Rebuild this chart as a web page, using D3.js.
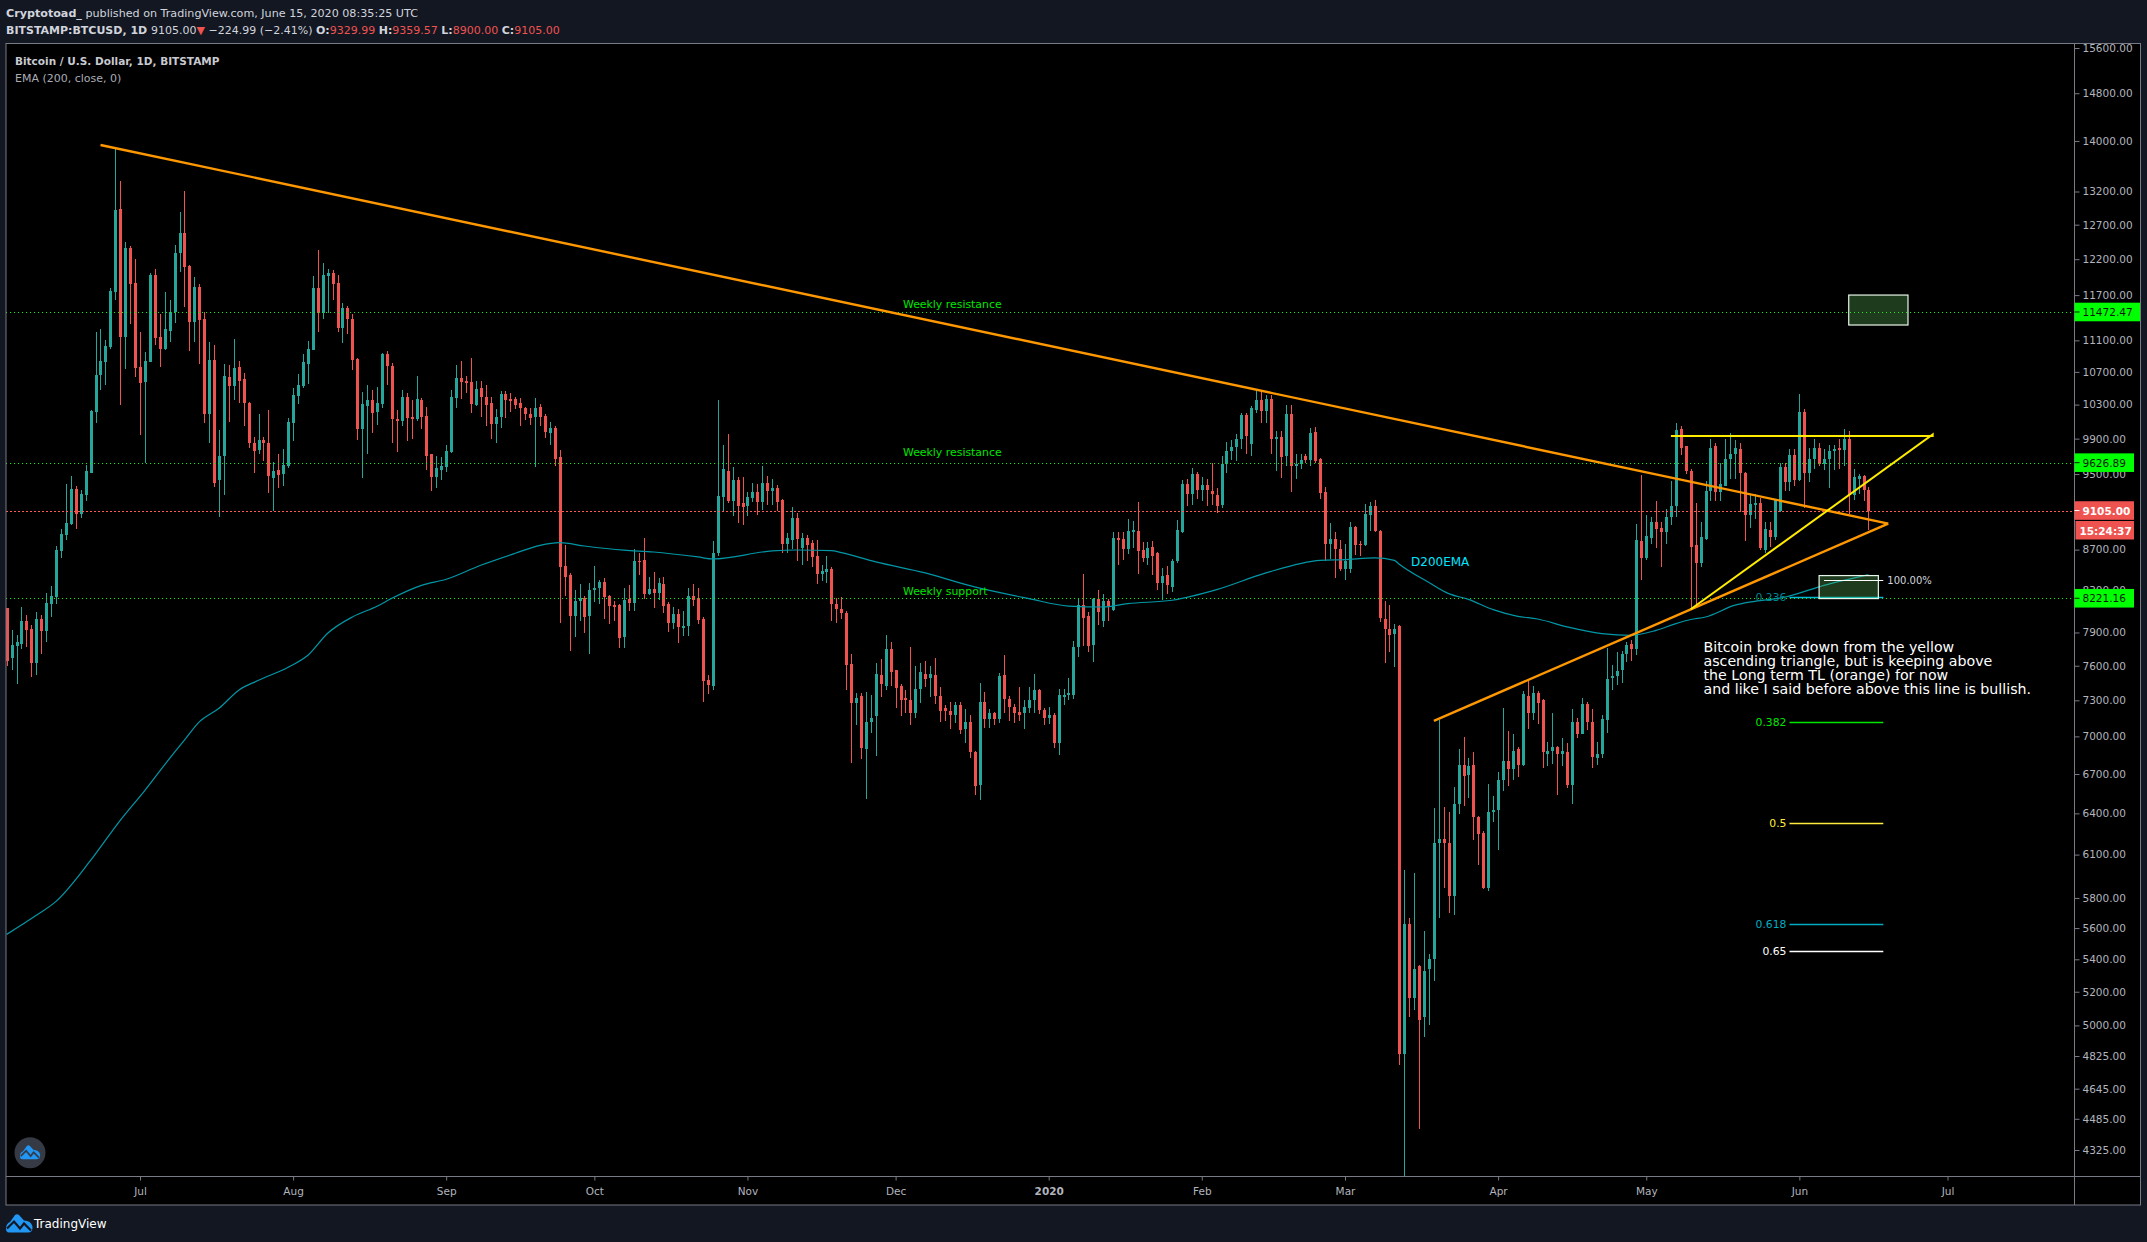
<!DOCTYPE html>
<html>
<head>
<meta charset="utf-8">
<style>
  html, body { margin: 0; padding: 0; background: #131722; }
  svg { display: block; }
  text { font-family: "DejaVu Sans", sans-serif; }
</style>
<script src="https://cdn.jsdelivr.net/npm/d3@7"></script>
</head>
<body>
<div id="chart"></div>
<script>
// daily candles, first one is 2019-06-04
const firstDay = Date.UTC(2019, 5, 4);
const opens = [
  8124,7671,7775,7794,8005,7930,7621,8023,7911,8165,
  8231,8683,8847,8961,9334,9066,9269,9517,10216,10665,
  10829,11018,11749,12938,11147,12364,11868,10765,10578,10829,
  11982,11147,10992,11224,11468,12293,12582,12107,11343,11816,
  11383,10192,10853,9429,9707,10640,10530,10765,10615,10323,
  9854,9772,9888,9854,9460,9548,9501,9592,10085,10408,
  10530,10803,10980,11801,11463,11968,11999,11868,11265,11530,
  11383,10865,10013,10288,10359,10216,10311,10929,10770,10126,
  10102,10397,10150,10126,10351,10170,9721,9472,9548,9583,
  9745,10383,10620,10583,10571,10293,10501,10390,10316,10075,
  10150,10425,10363,10363,10316,10257,10186,10150,10275,10170,
  9960,10020,9685,8532,8448,8052,8193,8222,8052,8299,
  8318,8376,8241,8155,8155,7855,8212,8174,8583,8594,
  8260,8308,8270,8357,8165,7986,8070,7940,7959,8241,
  8222,8023,7476,7423,8664,9247,9537,9205,9432,9180,
  9151,9236,9303,9195,9407,9312,9349,9215,8758,8796,
  9031,8715,8816,8769,8640,8455,8481,8507,8168,8118,
  8085,7614,7276,7334,6899,7119,7165,7518,7423,7754,
  7560,7420,7320,7300,7195,7394,7530,7495,7518,7334,
  7231,7210,7175,7260,7060,7119,6876,6615,7283,7140,
  7190,7140,7520,7310,7240,7200,7190,7235,7300,7385,
  7220,7150,7180,6945,7330,7345,7342,7765,8161,8050,
  7785,8213,8005,8196,8110,8820,8810,8702,8880,8890,
  8700,8620,8725,8665,8373,8445,8330,8590,8880,9395,
  9285,9505,9323,9375,9310,9275,9160,9617,9756,9805,
  9890,10174,9836,10240,10352,10225,10364,9890,9920,9700,
  10185,9587,9610,9700,9660,9975,9665,9300,8762,8813,
  8711,8505,8505,8928,8760,8745,9060,9150,8895,8029,
  7930,7885,7958,4838,5628,5165,5356,5049,5340,5405,
  6186,6211,6186,5810,6468,6769,6690,6769,6372,6255,
  5870,6407,6422,6650,6800,6740,6895,6769,7335,7195,
  7364,7303,6860,6878,6913,6855,6875,6612,7120,7022,
  7270,7120,6830,6855,7135,7490,7508,7560,7703,7793,
  7754,8785,8617,8822,8982,8925,8878,9035,9151,10010,
  9810,9532,8745,8564,8807,9312,9813,9300,9365,9666,
  9722,9780,9510,9056,9165,9185,8700,8900,8827,9098,
  9576,9410,9711,9431,10210,9510,9666,9790,9610,9666,
  9757,9790,9775,9893,9269,9450,9475,9329.99
];
const highs = [
  8130,7920,7875,8136,8061,7967,8089,8061,8270,8337,
  8735,8910,9389,9476,9366,9323,9599,10240,11212,11252,
  11108,11801,13869,13367,12451,12393,12207,11212,10954,12010,
  12065,11450,11747,11638,12407,12893,13212,12115,11953,11857,
  11476,11083,11044,10003,10803,10786,11122,10841,10690,10335,
  9922,10192,9915,10239,9636,9727,9785,10144,10504,10677,
  10929,11094,11968,12336,12150,12065,12052,11982,11598,11557,
  11450,10870,10456,10541,10480,10517,10941,10961,10805,10233,
  10474,10437,10351,10645,10383,10275,9730,9699,9685,9826,
  10474,10783,10833,10654,10870,10583,10590,10536,10390,10245,
  10462,10462,10437,10390,10383,10275,10264,10383,10304,10186,
  10090,10044,9773,8742,8465,8299,8357,8245,8366,8532,
  8395,8415,8250,8193,8170,8318,8347,8704,8664,8816,
  8424,8474,8415,8424,8183,8136,8117,8098,8318,8357,
  8318,8042,7518,8786,10352,9824,9951,9576,9470,9470,
  9303,9400,9390,9587,9476,9450,9378,9225,8871,9144,
  9080,8875,8850,8800,8800,8544,8632,8530,8221,8230,
  8100,7708,7360,7360,7370,7345,7620,7656,7875,7810,
  7565,7440,7390,7772,7600,7628,7645,7600,7665,7410,
  7260,7290,7290,7290,7225,7175,6885,7445,7370,7225,
  7200,7535,7700,7340,7265,7410,7300,7415,7525,7400,
  7235,7240,7190,7400,7400,7495,7820,8221,8461,8090,
  8220,8305,8260,8215,8880,8880,8880,9012,9000,9194,
  8780,8780,8790,8680,8520,8540,8610,9005,9430,9450,
  9570,9525,9470,9450,9625,9350,9700,9860,9880,9950,
  10195,10195,10285,10480,10480,10420,10420,9985,9985,10292,
  10300,9720,9720,9725,10020,10030,9680,9362,8970,8880,
  8800,8760,8985,8945,8790,9172,9197,9215,8900,8193,
  8157,7983,7965,5990,5667,5971,5365,5578,5433,6438,
  7134,6447,6410,6600,6898,6991,6830,6875,6380,6270,
  6624,6527,6716,7231,7044,7022,6913,7380,7476,7425,
  7380,7310,6955,7197,6920,6990,6945,7228,7155,7320,
  7290,7228,6955,7178,7757,7610,7720,7730,7810,7830,
  8968,9487,9060,9035,9205,8985,9120,9421,10080,10045,
  9820,9560,9185,8982,9421,9893,9848,9620,9893,9962,
  9880,9848,9520,9280,9280,9236,8982,8982,9225,9620,
  9620,9780,9780,10425,10245,9790,9893,9855,9780,9825,
  9825,9893,10010,9985,9553,9505,9485,9359.57
];
const lows = [
  7600,7560,7438,7748,7766,7501,7518,7703,7811,8042,
  8165,8614,8796,8955,8910,9024,9205,9510,10085,10480,
  10541,10992,11638,10299,10739,11317,10640,9945,9619,10820,
  11044,10765,10980,11083,11330,12023,11543,10967,11083,10803,
  10085,9854,9361,9040,9272,10097,10359,10323,10050,9797,
  9513,9727,9647,9293,9100,9350,9370,9570,9876,10311,
  10500,10554,10975,11212,11383,11463,11638,11212,11070,11186,
  10727,9888,9460,9727,9968,10062,10262,10536,9850,9745,
  10044,9870,9898,10110,10009,9542,9312,9342,9429,9525,
  9740,10255,10363,10437,10198,10282,10150,10044,9898,9850,
  10020,10138,10214,10245,10044,10115,10056,9583,10044,9903,
  9826,9594,7986,8240,7730,7855,8005,7893,7703,8183,
  8165,8023,7977,8005,7763,7756,8098,8098,8444,8212,
  8250,8127,8202,8079,7903,7930,7803,7864,7864,8146,
  7977,7285,7351,7390,8633,9088,9180,9045,8972,8950,
  9045,9195,9055,9108,9162,9162,9100,8661,8661,8711,
  8587,8544,8590,8527,8357,8390,8364,8008,7985,8023,
  7390,6783,7092,6815,6511,7030,6845,7327,7390,7420,
  7231,7165,7190,7092,7150,7276,7410,7330,7265,7122,
  7130,7060,7110,7020,6945,6825,6538,6500,7066,7066,
  7090,7110,7190,7130,7110,7130,7060,7190,7190,7185,
  7090,7100,6905,6850,7260,7300,7310,7680,7780,7725,
  7634,7970,7950,8010,8100,8544,8600,8660,8720,8461,
  8580,8545,8450,8300,8200,8260,8280,8570,8870,9150,
  9160,9230,9210,9150,9160,9075,9130,9515,9660,9640,
  9780,9720,9699,10200,10084,10080,9730,9530,9454,9590,
  9305,9450,9560,9625,9590,9625,9233,8590,8610,8422,
  8490,8400,8470,8650,8640,8740,8895,8880,8000,7627,
  7723,7590,4777,3850,5049,5090,4432,4934,5003,5263,
  5669,5865,5700,5683,6397,6457,6512,6202,6024,5860,
  5850,6337,6130,6570,6606,6650,6675,6765,7060,7135,
  7098,6750,6760,6780,6540,6760,6590,6470,6990,7020,
  7050,6750,6770,6825,7030,7385,7430,7450,7632,7640,
  7700,8396,8600,8755,8713,8523,8755,8950,9035,9711,
  9505,8118,8146,8523,8795,9205,9205,9205,9365,9443,
  9443,9088,8786,8919,9015,8700,8664,8730,8800,9090,
  9312,9312,9365,9421,9130,9410,9560,9590,9540,9345,
  9550,9555,9590,9066,9215,9280,9205,8900
];
const closes = [
  7646,7784,7811,8005,7920,7621,8023,7911,8174,8241,
  8694,8858,8972,9334,9066,9280,9532,10221,10665,10841,
  11031,11760,12923,11147,12364,11857,10752,10566,10841,11982,
  11134,10992,11252,11476,12293,12582,12094,11343,11816,11370,
  10192,10853,9407,9707,10653,10530,10752,10591,10323,9844,
  9761,9888,9844,9482,9537,9490,9603,10097,10420,10541,
  10829,10992,11801,11463,11982,11999,11857,11265,11530,11383,
  10853,10013,10311,10359,10203,10323,10929,10770,10126,10102,
  10397,10138,10126,10363,10158,9699,9472,9571,9594,9760,
  10390,10620,10571,10559,10304,10489,10390,10293,10075,10150,
  10425,10351,10340,10293,10257,10186,10138,10264,10158,9974,
  10020,9668,8523,8424,8052,8193,8222,8042,8299,8318,
  8376,8231,8146,8136,7845,8202,8174,8583,8574,8260,
  8308,8270,8366,8146,7986,8070,7948,7959,8241,8202,
  8014,7467,7431,8664,9258,9554,9205,9432,9151,9140,
  9247,9303,9195,9407,9312,9349,9194,8762,8820,9021,
  8813,8816,8744,8627,8455,8488,8504,8168,8118,8079,
  7605,7281,7320,6907,7122,7155,7525,7437,7754,7541,
  7409,7300,7300,7195,7394,7541,7480,7530,7334,7210,
  7210,7180,7260,7052,7119,6876,6610,7283,7140,7190,
  7140,7510,7310,7240,7190,7180,7240,7300,7390,7215,
  7150,7180,6945,7342,7345,7360,7770,8161,8032,7780,
  8213,8092,8196,8148,8820,8796,8702,8892,8900,8688,
  8620,8720,8640,8373,8440,8345,8590,8900,9395,9280,
  9498,9323,9380,9330,9285,9150,9617,9756,9805,9900,
  10174,9928,10265,10352,10225,10364,9890,9920,9685,10185,
  9587,9610,9662,9660,9966,9650,9295,8762,8813,8711,
  8505,8590,8928,8745,8745,9067,9150,8892,8030,7930,
  7875,7935,4838,5628,5165,5340,5030,5324,5403,6186,
  6211,6186,5810,6468,6769,6684,6763,6372,6250,5870,
  6407,6422,6650,6800,6740,6880,6769,7352,7190,7364,
  7280,6875,6880,6913,6855,6880,6612,7116,7022,7270,
  7116,6835,6855,7143,7480,7508,7550,7703,7784,7754,
  8796,8617,8837,8982,8910,8878,9035,9151,9997,9790,
  9532,8725,8564,8827,9312,9790,9300,9389,9666,9722,
  9790,9510,9056,9173,9185,8713,8910,8827,9215,9576,
  9410,9711,9431,10210,9510,9666,9790,9610,9666,9757,
  9780,9775,9893,9269,9465,9475,9323,9105
];

// 200 day EMA, days counted from 2019-07-01
const emaDays = [-27,-21,-17,-10,-4,1,6,9,12,16,20,24,30,34,38,43,48,51,57,62,69,76,81,85,90,98,104,113,116,128,133,140,142,149,159,169,180,188,195,200,209,218,228,239,244,250,254,255,261,265,269,274,279,283,289,296,302,307,311,314,317,323,327,333,341,350];
const emaValues = [5559,5684,5777,6059,6348,6574,6823,6970,7119,7233,7387,7472,7587,7693,7893,8044,8145,8221,8346,8405,8543,8663,8744,8771,8737,8694,8676,8626,8606,8687,8696,8690,8670,8576,8467,8330,8218,8147,8138,8170,8202,8304,8467,8592,8600,8616,8592,8553,8373,8266,8211,8113,8050,8025,7951,7890,7874,7920,7982,8020,8044,8155,8192,8231,8346,8451];

const priceTicks = [15600,14800,14000,13200,12700,12200,11700,11100,10700,10300,9900,9500,8700,8300,7900,7600,7300,7000,6700,6400,6100,5800,5600,5400,5200,5000,4825,4645,4485,4325];
const monthTicks = ["2019-07-01","2019-08-01","2019-09-01","2019-10-01","2019-11-01","2019-12-01","2020-01-01","2020-02-01","2020-03-01","2020-04-01","2020-05-01","2020-06-01","2020-07-01"];
const monthNames = ["Jul","Aug","Sep","Oct","Nov","Dec","2020","Feb","Mar","Apr","May","Jun","Jul"];

// drawings on the chart
const greenLevels = [11472.47, 9626.89, 8221.16];
const lastPrice = 9105;
const longTrend = [["2019-06-23",13935],["2020-06-19",8968]];
const riseTrend = [["2020-03-19",7127],["2020-06-19",8968]];
const triangle = [["2020-05-06",9930],["2020-06-28",9930],["2020-06-28",9947],["2020-05-10",8116]];
const fibLabels = ["0.382","0.5","0.618","0.65"];
const fibPrices = [7122,6332,5627,5454];
const fibColors = ["#00e600","#ffeb3b","#00acc1","#ffffff"];
const fibDays = ["2020-05-30","2020-06-18"];
const boxUpper = [["2020-06-11",11701],["2020-06-23",11300]];
const boxLower = [["2020-06-05",8441],["2020-06-17",8218]];
const noteLines = ["Bitcoin broke down from the yellow","ascending triangle, but is keeping above","the Long term TL (orange) for now","and like I said before above this line is bullish."];

const width = 2147, height = 1242;
const frame = { left: 6, top: 43.5, right: 2140.5, bottom: 1205 };
const axisX = 2074.5, axisY = 1176.5;
const up = "#26a69a", down = "#ef5350", grey = "#b2b5be", line = "#787b86";

const parseDay = d3.utcParse("%Y-%m-%d");
const x = d3.scaleUtc().domain([Date.UTC(2019,6,1), Date.UTC(2020,6,1)]).range([140, 1947.5]);
const y = d3.scaleLog().domain([4325, 15600]).range([1150, 48]);
const px = d => Math.round(x(d));
const crisp = p => Math.round(y(p)) + 0.5;
const pt = p => [x(parseDay(p[0])), y(p[1])];
const dayMs = 86400000;

const svg = d3.select("#chart").append("svg").attr("width", width).attr("height", height);
svg.append("rect").attr("width", width).attr("height", height).attr("fill", "#131722");
svg.append("rect").attr("x", frame.left).attr("y", frame.top)
  .attr("width", frame.right - frame.left).attr("height", frame.bottom - frame.top).attr("fill", "#000");

svg.append("clipPath").attr("id", "plot").append("rect")
  .attr("x", frame.left).attr("y", frame.top).attr("width", axisX - frame.left).attr("height", axisY - frame.top);
const plot = svg.append("g").attr("clip-path", "url(#plot)");

// candles
const candles = closes.map((c, i) => ({ t: firstDay + i * dayMs, o: opens[i], h: highs[i], l: lows[i], c: c }));
const candle = plot.append("g").attr("shape-rendering", "crispEdges").selectAll("g").data(candles).enter().append("g")
  .attr("fill", d => d.c >= d.o ? up : down);
candle.append("rect").attr("x", d => px(d.t)).attr("width", 1)
  .attr("y", d => y(d.h)).attr("height", d => y(d.l) - y(d.h));
candle.append("rect").attr("x", d => px(d.t) - 1).attr("width", 3)
  .attr("y", d => y(Math.max(d.o, d.c))).attr("height", d => Math.max(1, Math.abs(y(d.o) - y(d.c))));

// dotted levels
plot.selectAll(".level").data(greenLevels).enter().append("line")
  .attr("x1", frame.left).attr("x2", axisX).attr("y1", d => crisp(d)).attr("y2", d => crisp(d))
  .attr("stroke", "#00ff00").attr("stroke-width", 1).attr("stroke-dasharray", "1 3");
plot.append("line").attr("x1", frame.left).attr("x2", axisX).attr("y1", crisp(lastPrice)).attr("y2", crisp(lastPrice))
  .attr("stroke", "#ff5a55").attr("stroke-width", 1).attr("stroke-dasharray", "2 2");

// EMA
const emaLine = d3.line().curve(d3.curveMonotoneX).x(d => x(Date.UTC(2019,6,1) + d[0] * dayMs)).y(d => y(d[1]));
plot.append("path").datum(emaDays.map((d, i) => [d, emaValues[i]])).attr("d", emaLine)
  .attr("fill", "none").attr("stroke", "#0097a7").attr("stroke-width", 1.2);

// fib levels
const fibX = fibDays.map(parseDay).map(x);
fibPrices.forEach((p, i) => {
  plot.append("line").attr("x1", fibX[0]).attr("x2", fibX[1]).attr("y1", crisp(p)).attr("y2", crisp(p)).attr("stroke", fibColors[i]).attr("stroke-width", 1.5);
  plot.append("text").attr("x", fibX[0] - 3).attr("y", y(p) + 4).attr("text-anchor", "end").attr("font-size", 10.8).attr("fill", fibColors[i]).text(fibLabels[i]);
});
plot.append("line").attr("x1", fibX[0]).attr("x2", fibX[1]).attr("y1", crisp(8233)).attr("y2", crisp(8233)).attr("stroke", "#00bcd4").attr("stroke-width", 1.5);
plot.append("text").attr("x", fibX[0] - 3).attr("y", y(8233) + 4).attr("text-anchor", "end").attr("font-size", 10.8).attr("fill", "#00838f").text("0.236");

// boxes
[boxUpper, boxLower].forEach(b => {
  const a = pt(b[0]), c = pt(b[1]);
  plot.append("rect").attr("x", a[0]).attr("y", a[1]).attr("width", c[0] - a[0]).attr("height", c[1] - a[1])
    .attr("fill", "#63c263").attr("fill-opacity", 0.3).attr("stroke", "#e8f5e9").attr("stroke-width", 1.2);
});
plot.append("line").attr("x1", x(parseDay("2020-06-06"))).attr("x2", fibX[1]).attr("y1", crisp(8402)).attr("y2", crisp(8402)).attr("stroke", "#fff").attr("stroke-width", 1.2);
plot.append("text").attr("x", fibX[1] + 4).attr("y", y(8402) + 4).attr("font-size", 10).attr("fill", "#d1d4dc").text("100.00%");

// trend lines
const path2 = d3.line();
plot.append("path").attr("d", path2(longTrend.map(pt))).attr("fill", "none").attr("stroke", "#ff9800").attr("stroke-width", 2.4);
plot.append("path").attr("d", path2(riseTrend.map(pt))).attr("fill", "none").attr("stroke", "#ff9800").attr("stroke-width", 2.4);
plot.append("path").attr("d", path2(triangle.map(pt))).attr("fill", "none").attr("stroke", "#ffeb00").attr("stroke-width", 2);

// text notes
const labelGreen = "#00e600";
[["Weekly resistance", 304], ["Weekly resistance", 452], ["Weekly support", 591]].forEach(t => {
  plot.append("text").attr("x", 903).attr("y", t[1] + 4).attr("font-size", 10.9).attr("fill", labelGreen).text(t[0]);
});
plot.append("text").attr("x", 1411).attr("y", 566).attr("font-size", 12).attr("fill", "#00e5ff").text("D200EMA");
noteLines.forEach((t, i) => {
  plot.append("text").attr("x", 1703.5).attr("y", 651.5 + i * 14).attr("font-size", 14.2).attr("fill", "#fff").text(t);
});

// price axis
const yAxis = d3.axisRight(y).tickValues(priceTicks).tickFormat(d3.format(".2f")).tickSize(5).tickPadding(3);
const yG = svg.append("g").attr("transform", `translate(${axisX},0)`).call(yAxis);
yG.select(".domain").remove();
yG.selectAll("line").attr("stroke", line);
yG.selectAll("text").attr("fill", grey).attr("font-size", 10.5).attr("font-family", "DejaVu Sans");

// time axis
const xAxis = d3.axisBottom(x).tickValues(monthTicks.map(parseDay)).tickFormat((d, i) => monthNames[i]).tickSize(4).tickPadding(7);
const xG = svg.append("g").attr("transform", `translate(0,${axisY})`).call(xAxis);
xG.select(".domain").remove();
xG.selectAll("line").attr("stroke", line);
xG.selectAll("text").attr("fill", grey).attr("font-size", 10.5).attr("font-family", "DejaVu Sans")
  .attr("font-weight", (d, i) => monthNames[i] === "2020" ? "bold" : "normal");

// frame lines
svg.append("rect").attr("x", frame.left).attr("y", frame.top).attr("width", frame.right - frame.left).attr("height", frame.bottom - frame.top)
  .attr("fill", "none").attr("stroke", line);
svg.append("line").attr("x1", axisX).attr("x2", axisX).attr("y1", frame.top).attr("y2", frame.bottom).attr("stroke", line);
svg.append("line").attr("x1", frame.left).attr("x2", frame.right).attr("y1", axisY).attr("y2", axisY).attr("stroke", line);

// price tags on the axis
function priceTag(yPos, fill, color, txt, w, bold) {
  svg.append("rect").attr("x", axisX).attr("y", yPos - 9.3).attr("width", w).attr("height", 18.6).attr("fill", fill);
  svg.append("line").attr("x1", axisX).attr("x2", axisX + 5).attr("y1", yPos).attr("y2", yPos).attr("stroke", color);
  svg.append("text").attr("x", axisX + 8).attr("y", yPos + 4).attr("font-size", 10.5).attr("fill", color)
    .attr("font-weight", bold ? "bold" : "normal").text(txt);
}
greenLevels.forEach(p => {
  const txt = d3.format(".2f")(p);
  priceTag(y(p), "#00ff00", "#0b1a0b", txt, txt.length > 7 ? 65.5 : 59.5, false);
});
priceTag(y(lastPrice), down, "#fff", d3.format(".2f")(lastPrice), 59.5, true);
svg.append("rect").attr("x", axisX + 1).attr("y", 521).attr("width", 58.5).attr("height", 18.5).attr("fill", down);
svg.append("text").attr("x", axisX + 5).attr("y", 534.5).attr("font-size", 10.5).attr("font-weight", "bold").attr("fill", "#fff").text("15:24:37");

// headers
const head1 = svg.append("text").attr("x", 6).attr("y", 16.5).attr("font-size", 11.15).attr("fill", "#d1d4dc");
head1.append("tspan").attr("font-weight", "bold").text("Cryptotoad_");
head1.append("tspan").text(" published on TradingView.com, June 15, 2020 08:35:25 UTC");

const head2 = svg.append("text").attr("x", 6).attr("y", 33.5).attr("font-size", 11).attr("fill", "#d1d4dc");
head2.append("tspan").attr("font-weight", "bold").text("BITSTAMP:BTCUSD, 1D ");
head2.append("tspan").text(" 9105.00");
head2.append("tspan").attr("fill", down).text("▼");
head2.append("tspan").text(" −224.99 (−2.41%) ");
[["O:","9329.99"],["H:","9359.57"],["L:","8900.00"],["C:","9105.00"]].forEach(v => {
  head2.append("tspan").attr("font-weight", "bold").text(v[0]);
  head2.append("tspan").attr("fill", down).text(v[1] + " ");
});

svg.append("text").attr("x", 15).attr("y", 65).attr("font-size", 10.5).attr("font-weight", "bold").attr("fill", "#c8cad0").text("Bitcoin / U.S. Dollar, 1D, BITSTAMP");
svg.append("text").attr("x", 15).attr("y", 82).attr("font-size", 11).attr("fill", "#a9acb5").text("EMA (200, close, 0)");

// logos
function logo(tx, ty, s, zig) {
  const g = svg.append("g").attr("transform", `translate(${tx},${ty}) scale(${s})`);
  g.append("path").attr("d", "M0 14 Q0 9 4 7.5 L9 0.5 Q11 -1 13 0.5 L18 6 Q25 6 26.5 12 Q27 18 22 18 L3 18 Q0 18 0 14 Z").attr("fill", "#2196f3");
  g.append("path").attr("d", "M1 14 L8 7 L14 14 L18 9 L25 16").attr("fill", "none").attr("stroke", zig).attr("stroke-width", 2.2);
}
svg.append("circle").attr("cx", 30).attr("cy", 1152.7).attr("r", 15.5).attr("fill", "#363a45");
logo(20, 1145.5, 0.76, "#363a45");
logo(6, 1214.5, 1, "#131722");
svg.append("text").attr("x", 34).attr("y", 1228).attr("font-size", 12).attr("fill", "#fff").text("TradingView");
</script>
</body>
</html>
